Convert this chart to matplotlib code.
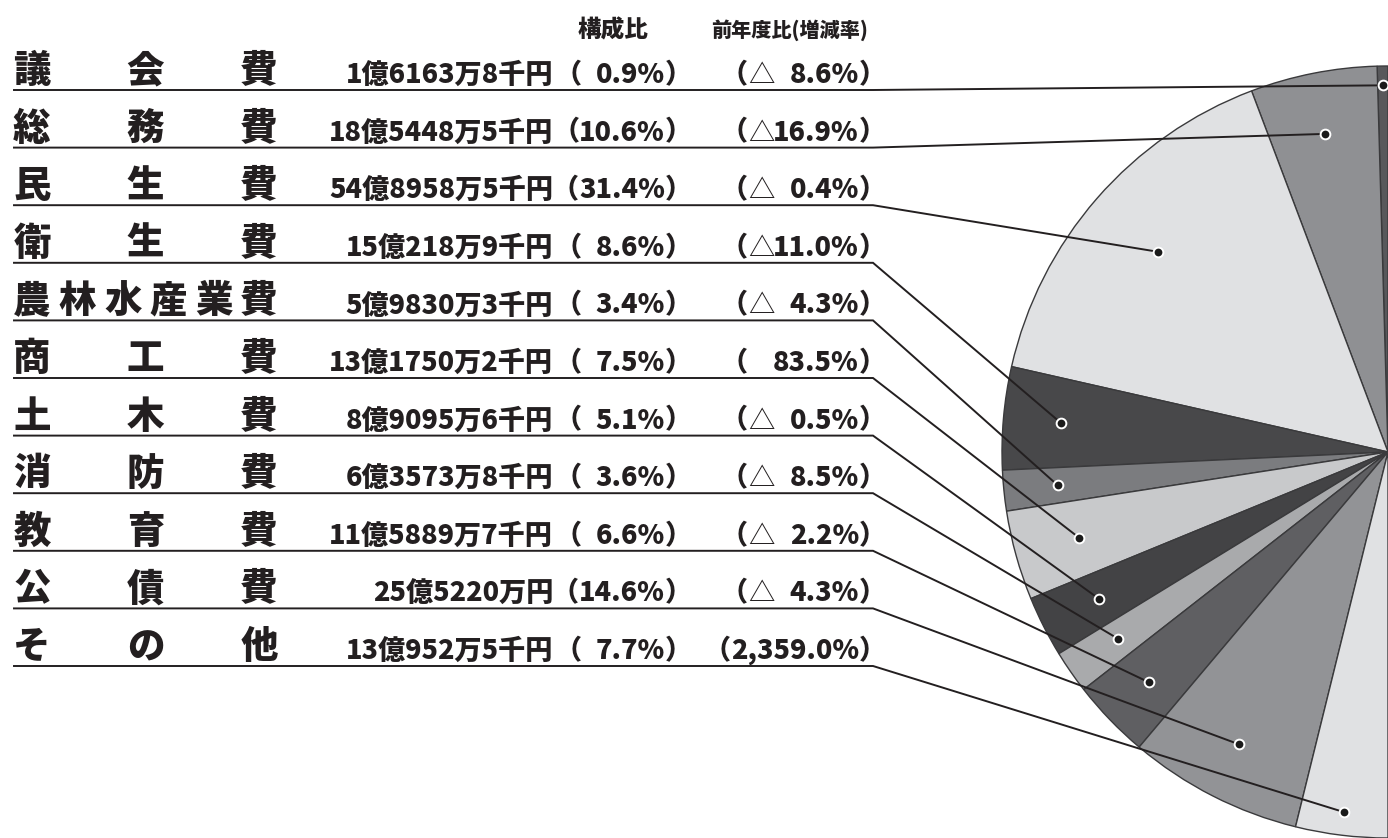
import numpy as np
import matplotlib.pyplot as plt

plt.rcParams['font.family'] = ['Noto Sans CJK JP', 'DejaVu Sans']

W, H = 1388, 838

items = ['議会費', '総務費', '民生費', '衛生費', '農林水産業費', '商工費',
         '土木費', '消防費', '教育費', '公債費', 'その他']
amounts = ['1億6163万8千円', '18億5448万5千円', '54億8958万5千円', '15億218万9千円',
           '5億9830万3千円', '13億1750万2千円', '8億9095万6千円', '6億3573万8千円',
           '11億5889万7千円', '25億5220万円', '13億952万5千円']
ratios = [0.9, 10.6, 31.4, 8.6, 3.4, 7.5, 5.1, 3.6, 6.6, 14.6, 7.7]
yoy = [-8.6, -16.9, -0.4, -11.0, -4.3, 83.5, -0.5, -8.5, -2.2, -4.3, 2359.0]

colors = ['#58585b', '#8f9093', '#e0e1e3', '#48484a', '#7b7c7f', '#c8c9cb',
          '#434345', '#a9aaac', '#5f5f62', '#929396', '#e0e1e3']
# how far out along the radius each dot sits
dot_r = [0.95, 0.84, 0.79, 0.85, 0.86, 0.83, 0.84, 0.85, 0.86, 0.85, 0.94]

ink = '#231f20'
cx, cy, R = 1388, H - 452, 386
row_top, row_step = 90, 57.6
line_x0, line_x1 = 14, 873

fig = plt.figure(figsize=(W / 100, H / 100), dpi=100)
ax = fig.add_axes([0, 0, 1, 1])

# half pie: the hidden last wedge takes the other half of the circle
wedges, _ = ax.pie(ratios + [sum(ratios)], colors=colors + ['none'],
                   startangle=90, counterclock=True, center=(cx, cy), radius=R,
                   wedgeprops=dict(edgecolor='#3a3a3c', linewidth=1.0))
wedges[-1].set_visible(False)

ax.set_xlim(0, W)
ax.set_ylim(0, H)
ax.set_aspect('equal')
ax.axis('off')

# headers
ax.text(613, H - 30, '構成比', fontsize=17, fontweight='heavy', color=ink,
        ha='center', va='center')
ax.text(790, H - 30, '前年度比(増減率)', fontsize=14.5, fontweight='heavy', color=ink,
        ha='center', va='center')

fig.canvas.draw()
renderer = fig.canvas.get_renderer()
inv = ax.transData.inverted()


def left_edge(t):
    return inv.transform(t.get_window_extent(renderer))[0][0]


for i, name in enumerate(items):
    uy = H - (row_top + i * row_step)
    base = uy + 7

    # label characters spread over fixed width
    xs = np.linspace(32, 259, len(name))
    for ch, x in zip(name, xs):
        ax.text(x, base + 1, ch, fontsize=27, fontweight='heavy', color=ink,
                ha='center', va='baseline')

    ax.text(553, base, amounts[i], fontsize=19.5, fontweight='heavy', color=ink,
            ha='right', va='baseline')

    # composition ratio
    t = ax.text(665, base, f'{ratios[i]:.1f}%', fontsize=19.5, fontweight='heavy',
                color=ink, ha='right', va='baseline')
    ax.text(665, base, '）', fontsize=19.5, fontweight='heavy', color=ink,
            ha='left', va='baseline')
    ax.text(min(582, left_edge(t)), base, '（', fontsize=19.5, fontweight='heavy',
            color=ink, ha='right', va='baseline')

    # year-on-year change
    v = yoy[i]
    t = ax.text(859, base, f'{abs(v):,.1f}%', fontsize=19.5, fontweight='heavy',
                color=ink, ha='right', va='baseline')
    ax.text(859, base, '）', fontsize=19.5, fontweight='heavy', color=ink,
            ha='left', va='baseline')
    ax.text(min(748, left_edge(t)), base, '（', fontsize=19.5, fontweight='heavy',
            color=ink, ha='right', va='baseline')
    if v < 0:
        ax.text(748, base, '△', fontsize=19, color=ink, ha='left', va='baseline')

    # underline and leader to the dot in the wedge
    w = wedges[i]
    mid = np.deg2rad((w.theta1 + w.theta2) / 2)
    dx = cx + dot_r[i] * R * np.cos(mid)
    dy = cy + dot_r[i] * R * np.sin(mid)
    ax.plot([line_x0, line_x1, dx], [uy, uy, dy], color=ink, lw=1.4,
            solid_joinstyle='miter', zorder=3)
    ax.plot(dx, dy, 'o', ms=7, mfc='#1a1a1a', mec='white', mew=1.4, zorder=4)

fig.savefig('out.png', dpi=100)
